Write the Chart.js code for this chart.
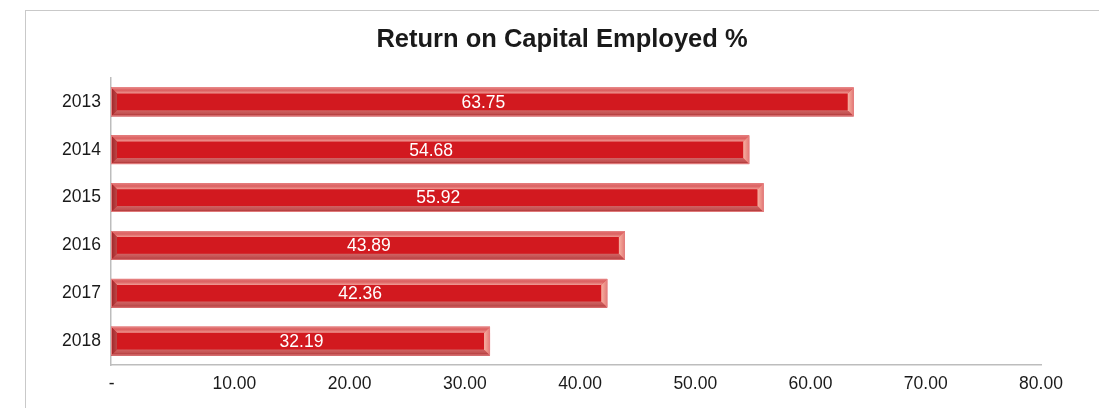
<!DOCTYPE html>
<html>
<head>
<meta charset="utf-8">
<title>Return on Capital Employed %</title>
<script src="https://cdn.jsdelivr.net/npm/chart.js@4.4.1/dist/chart.umd.min.js"></script>
<style>
  html, body { margin: 0; padding: 0; background: #ffffff; }
  #wrap { position: relative; width: 1099px; height: 408px; overflow: hidden; }
  #frame { position: absolute; left: 25px; top: 10px; right: -2px; bottom: -2px;
           border-top: 1.5px solid #c9c9c9; border-left: 1.5px solid #c9c9c9; }
  #wrap canvas { position: absolute; left: 0; top: 0; }
</style>
</head>
<body>
<div id="wrap">
  <div id="frame"></div>
  <canvas id="chart"></canvas>
</div>
<script>
// Financial years and their return on capital employed (%)
const years = ['2013', '2014', '2015', '2016', '2017', '2018'];
const roce = [63.75, 54.68, 55.92, 43.89, 42.36, 32.19];
// Horizontal axis range and spacing (axis starts just left of zero)
const axisMin = -0.7;
const axisMax = 80;
const axisStep = 10;
const chartTitle = 'Return on Capital Employed %';

const FONT = '"Liberation Sans", Arial, Helvetica, sans-serif';

// Title centred over the framed panel
const panelTitle = {
  id: 'panelTitle',
  afterDraw(chart) {
    const ctx = chart.ctx;
    ctx.save();
    ctx.fillStyle = '#1a1a1a';
    ctx.font = 'bold 25.5px ' + FONT;
    ctx.textAlign = 'center';
    ctx.textBaseline = 'alphabetic';
    ctx.fillText(chartTitle, (25 + chart.width) / 2, 47);
    ctx.restore();
  }
};

// Draws each bar as a bevelled red block, then writes its value on it
const bevelBars = {
  id: 'bevelBars',
  afterDatasetsDraw(chart) {
    const ctx = chart.ctx;
    const meta = chart.getDatasetMeta(0);
    meta.data.forEach((bar, i) => {
      const p = bar.getProps(['x', 'y', 'base', 'height'], true);
      const L = Math.min(p.base, p.x), R = Math.max(p.base, p.x);
      const T = p.y - p.height / 2, B = p.y + p.height / 2;
      const b = 6;
      ctx.save();
      // face
      ctx.fillStyle = '#d2191f';
      ctx.fillRect(L, T, R - L, B - T);
      // top bevel
      let g = ctx.createLinearGradient(0, T, 0, T + b);
      g.addColorStop(0, '#e27272');
      g.addColorStop(0.5, '#dc6262');
      g.addColorStop(1, '#f09a94');
      ctx.fillStyle = g;
      ctx.beginPath();
      ctx.moveTo(L, T); ctx.lineTo(R, T); ctx.lineTo(R - b, T + b); ctx.lineTo(L + b, T + b);
      ctx.closePath(); ctx.fill();
      // bottom bevel
      g = ctx.createLinearGradient(0, B - b, 0, B);
      g.addColorStop(0, '#d06464');
      g.addColorStop(0.6, '#c25050');
      g.addColorStop(1, '#9c1e22');
      ctx.fillStyle = g;
      ctx.beginPath();
      ctx.moveTo(L, B); ctx.lineTo(R, B); ctx.lineTo(R - b, B - b); ctx.lineTo(L + b, B - b);
      ctx.closePath(); ctx.fill();
      // left bevel
      g = ctx.createLinearGradient(L, 0, L + b, 0);
      g.addColorStop(0, '#9e2226');
      g.addColorStop(1, '#bb4848');
      ctx.fillStyle = g;
      ctx.beginPath();
      ctx.moveTo(L, T); ctx.lineTo(L + b, T + b); ctx.lineTo(L + b, B - b); ctx.lineTo(L, B);
      ctx.closePath(); ctx.fill();
      // right bevel
      g = ctx.createLinearGradient(R - b, 0, R, 0);
      g.addColorStop(0, '#f6b0a2');
      g.addColorStop(1, '#e47a76');
      ctx.fillStyle = g;
      ctx.beginPath();
      ctx.moveTo(R, T); ctx.lineTo(R - b, T + b); ctx.lineTo(R - b, B - b); ctx.lineTo(R, B);
      ctx.closePath(); ctx.fill();
      // outline
      ctx.strokeStyle = '#e58080';
      ctx.lineWidth = 1;
      ctx.strokeRect(L + 0.5, T + 0.5, R - L - 1, B - T - 1);
      // value label
      ctx.fillStyle = '#ffffff';
      ctx.font = '17.5px ' + FONT;
      ctx.textAlign = 'center';
      ctx.textBaseline = 'middle';
      ctx.fillText(roce[i].toFixed(2), (L + R) / 2 + 1, p.y + 1);
      ctx.restore();
    });
  }
};

new Chart(document.getElementById('chart'), {
  type: 'bar',
  data: {
    labels: years,
    datasets: [{
      label: 'ROCE %',
      data: roce,
      base: axisMin,
      backgroundColor: 'rgba(0,0,0,0)',
      borderWidth: 0,
      barPercentage: 0.6,
      categoryPercentage: 1.0
    }]
  },
  plugins: [bevelBars, panelTitle],
  options: {
    indexAxis: 'y',
    responsive: true,
    maintainAspectRatio: false,
    animation: false,
    events: [],
    layout: { padding: { left: 25, right: 58, top: 78, bottom: 0 } },
    plugins: {
      legend: { display: false },
      tooltip: { enabled: false },
      title: { display: false }
    },
    scales: {
      x: {
        type: 'linear',
        min: axisMin,
        max: axisMax,
        afterFit(scale) { scale.height = 43; },
        grid: { display: true, drawOnChartArea: false, drawTicks: false, color: 'rgba(0,0,0,0)' },
        border: { display: true, color: '#bdbdbd', width: 1.5 },
        ticks: {
          stepSize: axisStep,
          includeBounds: false,
          padding: 9,
          color: '#1a1a1a',
          font: { family: FONT, size: 17.5 },
          maxRotation: 0,
          // accounting style: zero shows as a dash
          callback: (v) => (v === 0 ? '-   ' : Number(v).toFixed(2))
        }
      },
      y: {
        type: 'category',
        afterFit(scale) { scale.width = 86; },
        grid: { display: true, drawOnChartArea: false, drawTicks: false, color: 'rgba(0,0,0,0)' },
        border: { display: true, color: '#bdbdbd', width: 1.5 },
        ticks: {
          padding: 10,
          color: '#1a1a1a',
          font: { family: FONT, size: 17.5 }
        }
      }
    }
  }
});
</script>
</body>
</html>
